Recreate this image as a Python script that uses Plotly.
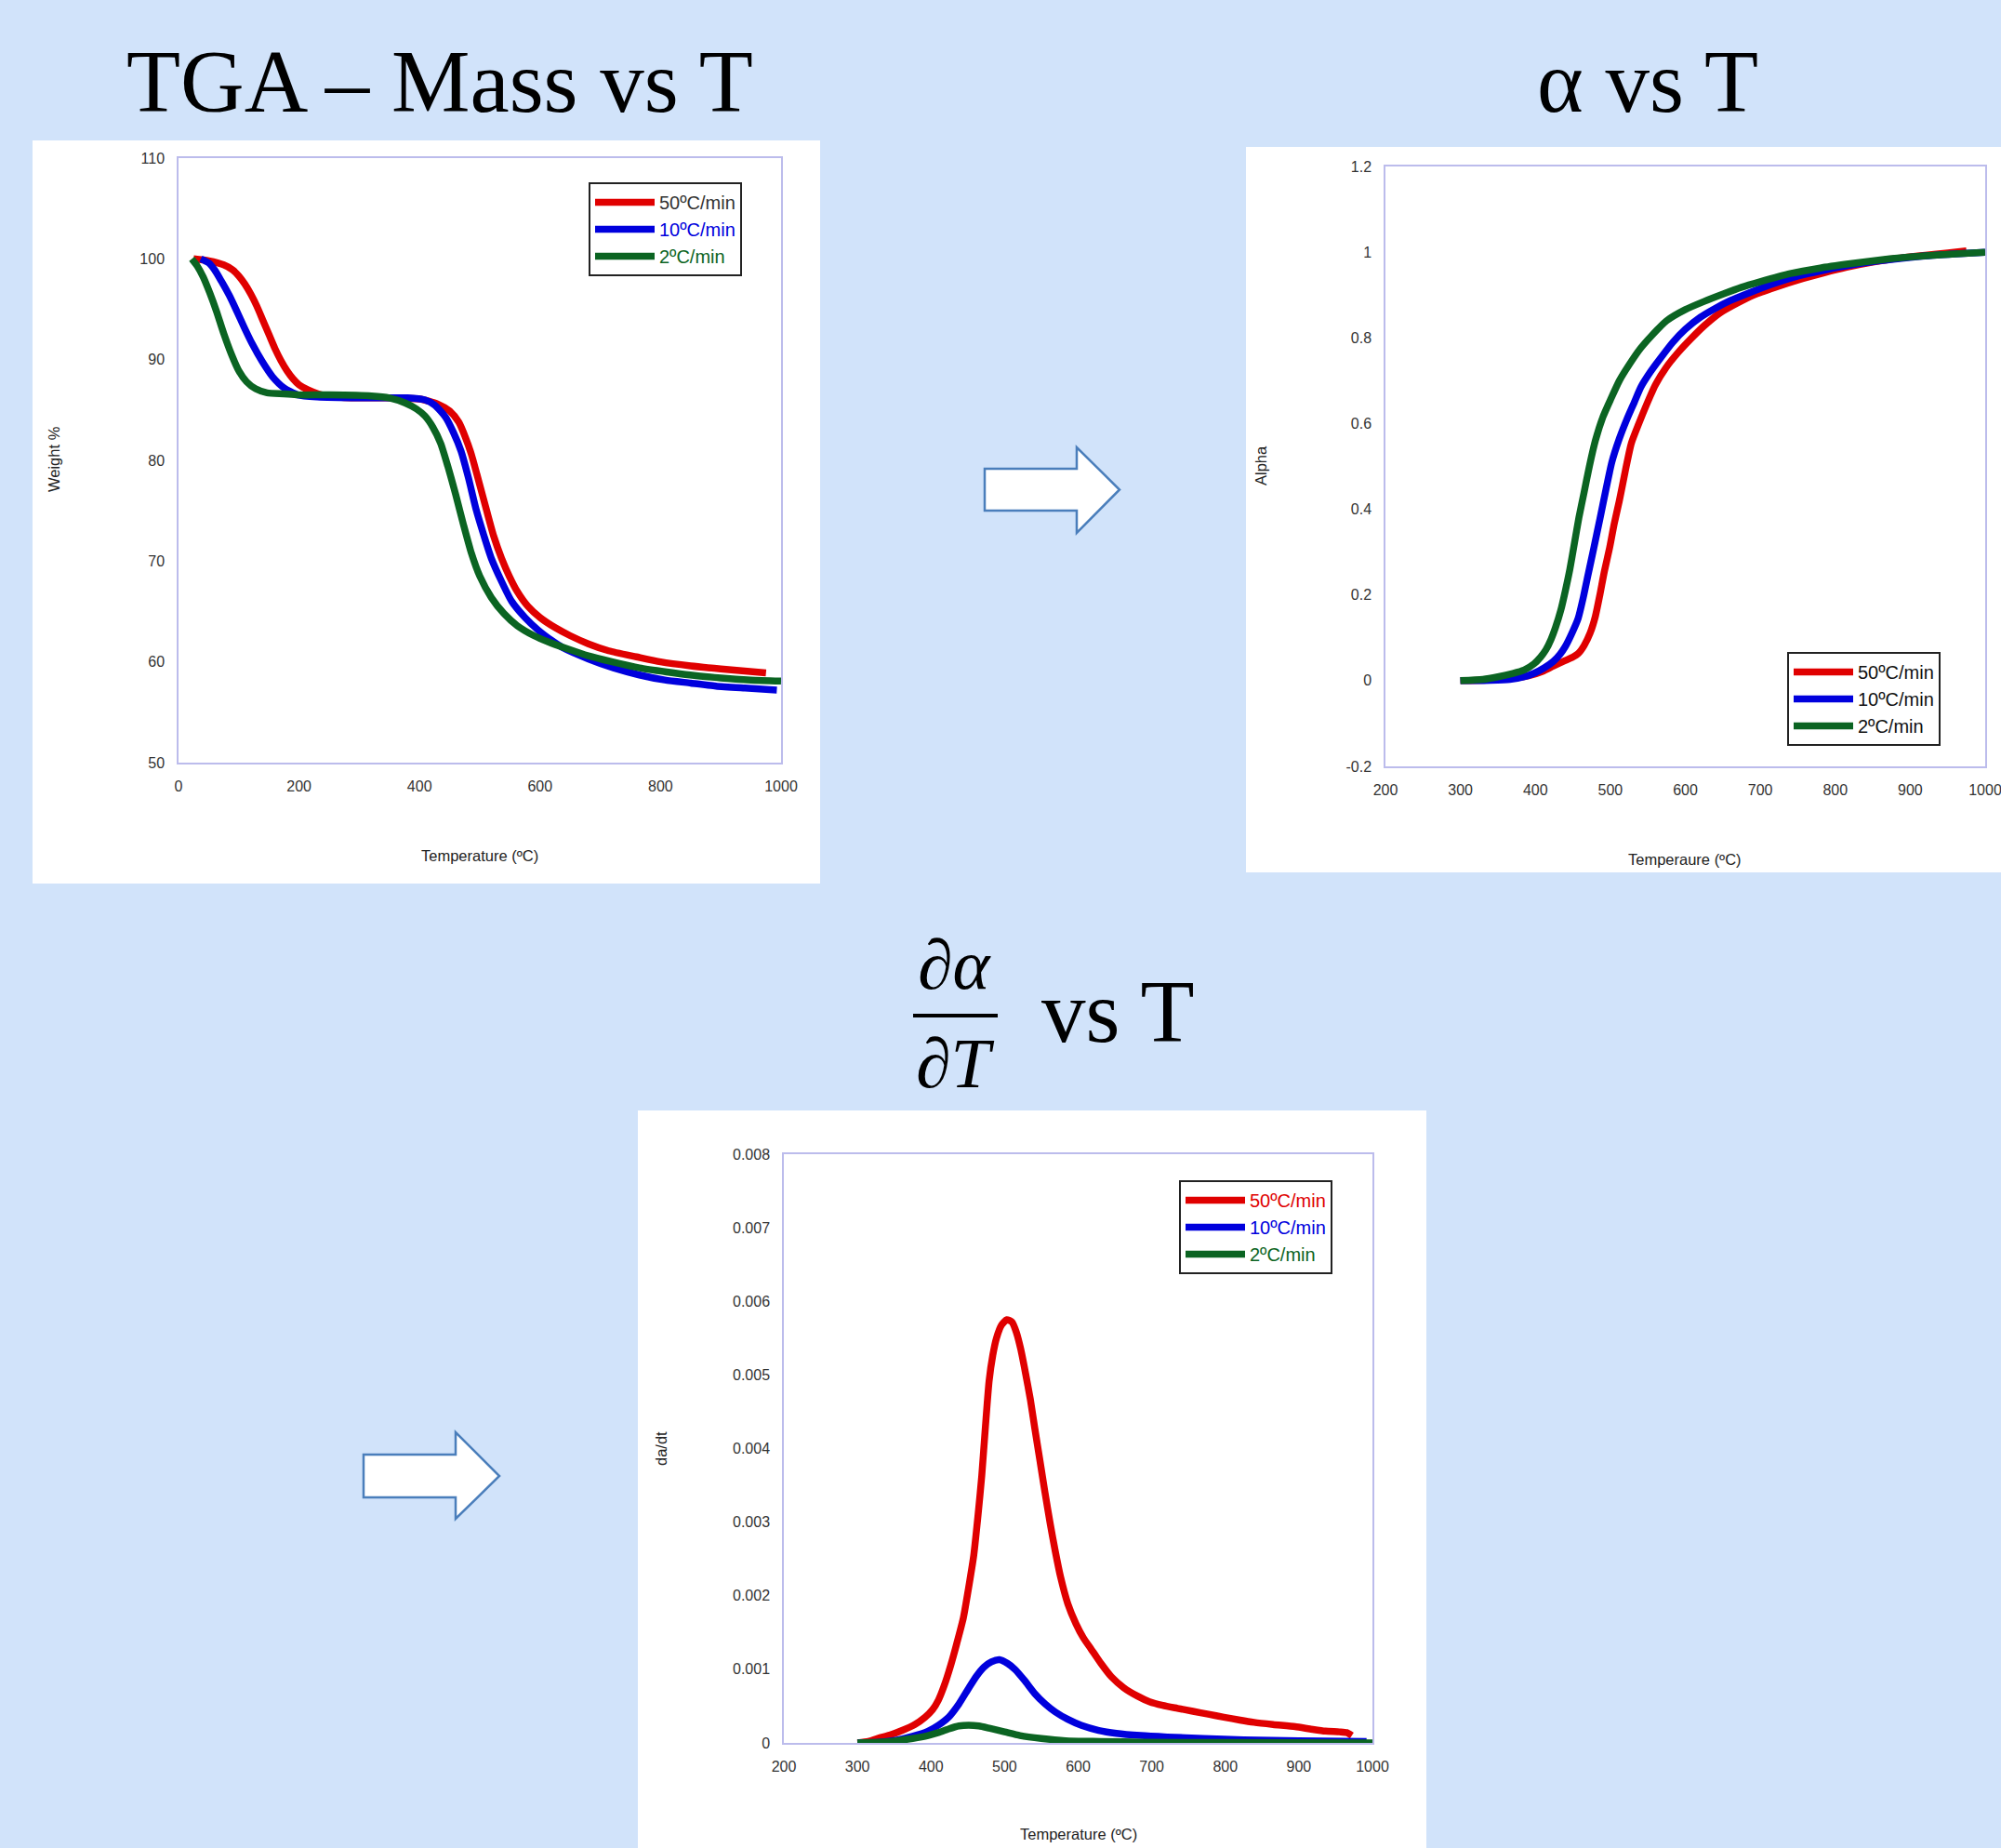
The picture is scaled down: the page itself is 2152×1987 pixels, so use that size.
import plotly.graph_objects as go

W, H = 2152, 1987

# ---------------- data ----------------
series_names = ["50ºC/min", "10ºC/min", "2ºC/min"]
series_colors = ["#e00000", "#0000dd", "#0b6422"]

# TGA - Mass vs T
tga_T_50 = [25, 50, 75, 90, 100, 110, 120, 130, 140, 150, 160, 170, 180, 190, 200, 215, 232, 260, 300, 350, 400, 430, 450, 465, 476, 486, 498, 511, 523, 536, 549, 562, 580, 600, 625, 650, 680, 714, 760, 800, 850, 900, 975]
tga_W_50 = [100, 99.8, 99.4, 98.9, 98.3, 97.5, 96.5, 95.3, 93.9, 92.5, 91.1, 89.9, 88.9, 88.1, 87.5, 87.0, 86.6, 86.3, 86.2, 86.2, 86.1, 85.6, 84.9, 83.8, 82.3, 80.6, 78.0, 75.1, 72.5, 70.3, 68.5, 67.0, 65.5, 64.4, 63.4, 62.6, 61.8, 61.1, 60.5, 60.0, 59.6, 59.3, 58.9]
tga_T_10 = [37, 50, 60, 71, 84, 96, 109, 122, 139, 156, 175, 198, 230, 300, 380, 409, 425, 443, 456, 469, 481, 494, 507, 519, 536, 553, 575, 596, 620, 638, 680, 722, 765, 807, 850, 892, 940, 993]
tga_W_10 = [100, 99.6, 98.9, 97.8, 96.4, 94.9, 93.2, 91.6, 89.8, 88.3, 87.2, 86.5, 86.3, 86.2, 86.2, 86.0, 85.5, 84.3, 82.8, 80.9, 78.3, 75.1, 72.5, 70.3, 68.0, 66.0, 64.4, 63.2, 62.1, 61.4, 60.3, 59.4, 58.7, 58.2, 57.9, 57.6, 57.4, 57.2]
tga_T_2 = [22, 31, 41, 52, 63, 75, 88, 100, 113, 128, 147, 175, 198, 250, 320, 350, 376, 395, 409, 422, 435, 447, 460, 473, 486, 500, 519, 540, 562, 590, 613, 645, 680, 720, 765, 810, 849, 900, 950, 1000]
tga_W_2 = [100, 99.3, 98.2, 96.6, 94.8, 92.6, 90.5, 88.9, 87.8, 87.1, 86.7, 86.6, 86.5, 86.5, 86.4, 86.2, 85.7, 85.1, 84.4, 83.3, 81.7, 79.4, 76.6, 73.6, 70.8, 68.5, 66.4, 64.8, 63.6, 62.6, 62.0, 61.3, 60.6, 60.0, 59.4, 59.0, 58.7, 58.4, 58.2, 58.1]

# alpha vs T
alpha_T_50 = [300, 340, 370, 392, 410, 424, 440, 450, 457, 465, 473, 480, 486, 492, 499, 505, 512, 520, 528, 538, 548, 560, 574, 590, 607, 625, 646, 668, 691, 720, 750, 785, 815, 850, 880, 920, 950, 975]
alpha_A_50 = [0, 0.002, 0.006, 0.012, 0.022, 0.034, 0.047, 0.055, 0.063, 0.082, 0.111, 0.15, 0.2, 0.255, 0.31, 0.365, 0.42, 0.49, 0.554, 0.60, 0.643, 0.69, 0.73, 0.765, 0.797, 0.828, 0.858, 0.88, 0.90, 0.918, 0.935, 0.952, 0.965, 0.977, 0.985, 0.993, 0.998, 1.003]
alpha_T_10 = [300, 340, 366, 385, 398, 412, 424, 433, 440, 448, 457, 464, 470, 478, 486, 494, 502, 512, 522, 532, 541, 554, 567, 583, 600, 620, 639, 660, 685, 715, 750, 785, 815, 860, 912, 960, 1000]
alpha_A_10 = [0, 0.001, 0.003, 0.009, 0.017, 0.030, 0.045, 0.062, 0.080, 0.108, 0.145, 0.195, 0.245, 0.31, 0.377, 0.445, 0.51, 0.565, 0.61, 0.65, 0.686, 0.722, 0.753, 0.789, 0.82, 0.848, 0.868, 0.887, 0.905, 0.925, 0.944, 0.958, 0.968, 0.980, 0.990, 0.996, 1.0]
alpha_T_2 = [300, 330, 350, 370, 385, 398, 407, 414, 421, 427, 434, 440, 446, 452, 458, 465, 472, 480, 490, 500, 512, 525, 540, 555, 575, 600, 625, 650, 675, 700, 740, 780, 820, 860, 900, 950, 1000]
alpha_A_2 = [0, 0.003, 0.009, 0.017, 0.025, 0.039, 0.055, 0.072, 0.097, 0.125, 0.165, 0.21, 0.26, 0.32, 0.38, 0.44, 0.50, 0.56, 0.615, 0.655, 0.70, 0.737, 0.775, 0.805, 0.840, 0.866, 0.885, 0.902, 0.918, 0.931, 0.950, 0.963, 0.973, 0.982, 0.989, 0.995, 1.0]

# d(alpha)/dT vs T
da_T_50 = [300, 315, 327, 345, 361, 378, 392, 402, 410, 418, 427, 435, 444, 451, 458, 464, 469, 474, 479, 484, 489, 496, 503, 510, 516, 522, 528, 535, 541, 548, 555, 562, 569, 576, 586, 597, 607, 618, 631, 645, 662, 680, 697, 715, 735, 756, 777, 798, 820, 839, 865, 895, 915, 936, 955, 965, 972]
da_V_50 = [0, 0.00002, 0.00006, 0.00011, 0.00017, 0.00025, 0.00035, 0.00045, 0.00058, 0.00078, 0.00106, 0.00135, 0.0017, 0.0021, 0.00254, 0.0031, 0.00363, 0.0043, 0.00492, 0.00527, 0.0055, 0.00568, 0.00575, 0.00572, 0.00558, 0.00535, 0.00505, 0.00467, 0.00428, 0.00384, 0.0034, 0.00298, 0.0026, 0.00226, 0.00189, 0.00162, 0.00143, 0.00127, 0.00108, 0.0009, 0.00075, 0.00064, 0.00056, 0.00051, 0.00047, 0.00043, 0.00039, 0.00035, 0.00031, 0.00028, 0.00025, 0.00022, 0.00019, 0.00016, 0.00015, 0.00014, 0.0001]
da_T_10 = [300, 330, 354, 375, 396, 410, 424, 438, 451, 462, 472, 482, 493, 504, 514, 527, 541, 555, 569, 586, 604, 628, 652, 685, 721, 770, 825, 900, 992]
da_V_10 = [0, 0.00001, 0.00004, 0.00009, 0.00016, 0.00024, 0.00035, 0.00053, 0.00074, 0.00091, 0.00103, 0.0011, 0.00113, 0.00108, 0.001, 0.00085, 0.00067, 0.00053, 0.00042, 0.00032, 0.00024, 0.00017, 0.00013, 0.0001, 0.00008, 0.00006, 0.00004, 0.00003, 0.00002]
da_T_2 = [300, 330, 354, 375, 396, 410, 424, 438, 451, 465, 479, 500, 521, 550, 583, 630, 687, 800, 1000]
da_V_2 = [0, 0.00001, 0.00003, 0.00006, 0.0001, 0.00014, 0.00019, 0.00023, 0.00024, 0.00023, 0.0002, 0.00015, 0.0001, 0.00006, 0.00003, 0.00002, 0.00001, 0.000005, 0]

# tick labels
tga_x_ticks = [0, 200, 400, 600, 800, 1000]
tga_y_ticks = [50, 60, 70, 80, 90, 100, 110]
alpha_x_ticks = [200, 300, 400, 500, 600, 700, 800, 900, 1000]
alpha_y_ticks = [-0.2, 0, 0.2, 0.4, 0.6, 0.8, 1, 1.2]
alpha_y_labels = ["-0.2", "0", "0.2", "0.4", "0.6", "0.8", "1", "1.2"]
da_x_ticks = [200, 300, 400, 500, 600, 700, 800, 900, 1000]
da_y_ticks = [0, 0.001, 0.002, 0.003, 0.004, 0.005, 0.006, 0.007, 0.008]
da_y_labels = ["0", "0.001", "0.002", "0.003", "0.004", "0.005", "0.006", "0.007", "0.008"]

# ---------------- helpers ----------------
def px(x):
    return x / W

def py(y):
    return 1 - y / H

BG = "#d1e3fa"
FRAME = "#bcbcec"
SANS = "Liberation Sans, Arial, sans-serif"
SERIF = "Liberation Serif, Times New Roman, serif"
LW = 7.5

fig = go.Figure()

tga_data = [(tga_T_50, tga_W_50), (tga_T_10, tga_W_10), (tga_T_2, tga_W_2)]
alpha_data = [(alpha_T_50, alpha_A_50), (alpha_T_10, alpha_A_10), (alpha_T_2, alpha_A_2)]
da_data = [(da_T_50, da_V_50), (da_T_10, da_V_10), (da_T_2, da_V_2)]

tga_label_colors = ["#333333", series_colors[1], series_colors[2]]
alpha_label_colors = ["#111111", "#111111", "#111111"]
da_label_colors = series_colors

for i, (xs, ys) in enumerate(tga_data):
    fig.add_trace(go.Scatter(
        x=xs, y=ys, mode="lines", xaxis="x", yaxis="y", legend="legend",
        name=f"<span style='color:{tga_label_colors[i]}'>{series_names[i]}</span>",
        line=dict(color=series_colors[i], width=LW, shape="spline", smoothing=0.6)))
for i, (xs, ys) in enumerate(alpha_data):
    fig.add_trace(go.Scatter(
        x=xs, y=ys, mode="lines", xaxis="x2", yaxis="y2", legend="legend2",
        name=f"<span style='color:{alpha_label_colors[i]}'>{series_names[i]}</span>",
        line=dict(color=series_colors[i], width=LW, shape="spline", smoothing=0.6)))
for i, (xs, ys) in enumerate(da_data):
    fig.add_trace(go.Scatter(
        x=xs, y=ys, mode="lines", xaxis="x3", yaxis="y3", legend="legend3",
        name=f"<span style='color:{da_label_colors[i]}'>{series_names[i]}</span>",
        line=dict(color=series_colors[i], width=LW, shape="spline", smoothing=0.6)))

def axis(domain, rng, tickvals, ticktext=None, anchor=None):
    d = dict(domain=domain, range=rng, tickvals=tickvals, showgrid=False, zeroline=False,
             showline=True, mirror=True, linecolor=FRAME, linewidth=1.5, ticks="",
             tickfont=dict(family=SANS, size=16, color="#333333"), fixedrange=True,
             ticklabelstandoff=10, automargin=False, ticklabeloverflow="allow")
    if ticktext is not None:
        d["ticktext"] = ticktext
    if anchor:
        d["anchor"] = anchor
    return d

def legend(x, y):
    return dict(x=px(x), y=py(y), xanchor="left", yanchor="top", xref="paper", yref="paper",
                bgcolor="white", bordercolor="#222222", borderwidth=2,
                font=dict(family=SANS, size=20, color="#111111"),
                itemwidth=64, tracegroupgap=0)

layout = dict(
    width=W, height=H, autosize=False,
    margin=dict(l=0, r=0, t=0, b=0, pad=0, autoexpand=False),
    paper_bgcolor=BG, plot_bgcolor="white", showlegend=True,
    xaxis=axis([px(192), px(840)], [0, 1000], tga_x_ticks, anchor="y"),
    yaxis=axis([py(820), py(170)], [50, 110], tga_y_ticks, anchor="x"),
    xaxis2=axis([px(1490), px(2135)], [200, 1000], alpha_x_ticks, anchor="y2"),
    yaxis2=axis([py(824), py(179)], [-0.2, 1.2], alpha_y_ticks, alpha_y_labels, anchor="x2"),
    xaxis3=axis([px(843), px(1476)], [200, 1000], da_x_ticks, anchor="y3"),
    yaxis3=axis([py(1874), py(1241)], [0, 0.008], da_y_ticks, da_y_labels, anchor="x3"),
    legend=legend(633, 196),
    legend2=legend(1922, 701),
    legend3=legend(1268, 1269),
)
fig.update_layout(**layout)

shapes = []
# white panels
for (x0, y0, x1, y1) in [(35, 151, 882, 950), (1340, 158, 2152, 938), (686, 1194, 1534, 1987)]:
    shapes.append(dict(type="rect", xref="paper", yref="paper", x0=px(x0), x1=px(x1),
                       y0=py(y1), y1=py(y0), fillcolor="white", line=dict(width=0), layer="below"))

# block arrows
def arrow_path(left, top, bottom, headx, headtop, headbottom, tipx):
    mid = (top + bottom) / 2
    pts = [(left, top), (headx, top), (headx, headtop), (tipx, mid),
           (headx, headbottom), (headx, bottom), (left, bottom)]
    return "M " + " L ".join(f"{px(a):.5f},{py(b):.5f}" for a, b in pts) + " Z"

for args in [(1059, 504, 549, 1158, 481, 573, 1204), (391, 1564, 1610, 490, 1540, 1633, 537)]:
    shapes.append(dict(type="path", xref="paper", yref="paper", path=arrow_path(*args),
                       fillcolor="white", line=dict(color="#4a7ebb", width=2.5), layer="above"))

# fraction bar
shapes.append(dict(type="line", xref="paper", yref="paper", x0=px(982), x1=px(1073),
                   y0=py(1092), y1=py(1092), line=dict(color="black", width=4)))
fig.update_layout(shapes=shapes)

ann = []
def text(x, y, s, size, family=SERIF, color="black", angle=0):
    ann.append(dict(x=px(x), y=py(y), xref="paper", yref="paper", text=s, showarrow=False,
                    xanchor="center", yanchor="middle", textangle=angle,
                    font=dict(family=family, size=size, color=color)))

# panel titles
text(473, 88, "TGA – Mass vs T", 95)
text(1772, 88, "α vs T", 95)
text(1202, 1088, "vs T", 95)
text(1027, 1037, "<i>∂α</i>", 76)
text(1027, 1143, "<i>∂T</i>", 76)

# axis titles
text(516, 920, "Temperature (ºC)", 16.5, SANS, "#222222")
text(58, 494, "Weight %", 16.5, SANS, "#222222", -90)
text(1812, 924, "Temperaure (ºC)", 16.5, SANS, "#222222")
text(1356, 501, "Alpha", 16.5, SANS, "#222222", -90)
text(1160, 1972, "Temperature (ºC)", 16.5, SANS, "#222222")
text(711, 1558, "da/dt", 16.5, SANS, "#222222", -90)
fig.update_layout(annotations=ann)

fig.write_html(
    "out.html",
    include_plotlyjs=True,
    config={"displayModeBar": False, "responsive": False},
    post_script=("document.documentElement.style.margin='0';document.documentElement.style.padding='0';"
                 "document.documentElement.style.overflow='hidden';"
                 "document.body.style.margin='0';document.body.style.padding='0';"
                 "document.body.style.overflow='hidden';"),
)
